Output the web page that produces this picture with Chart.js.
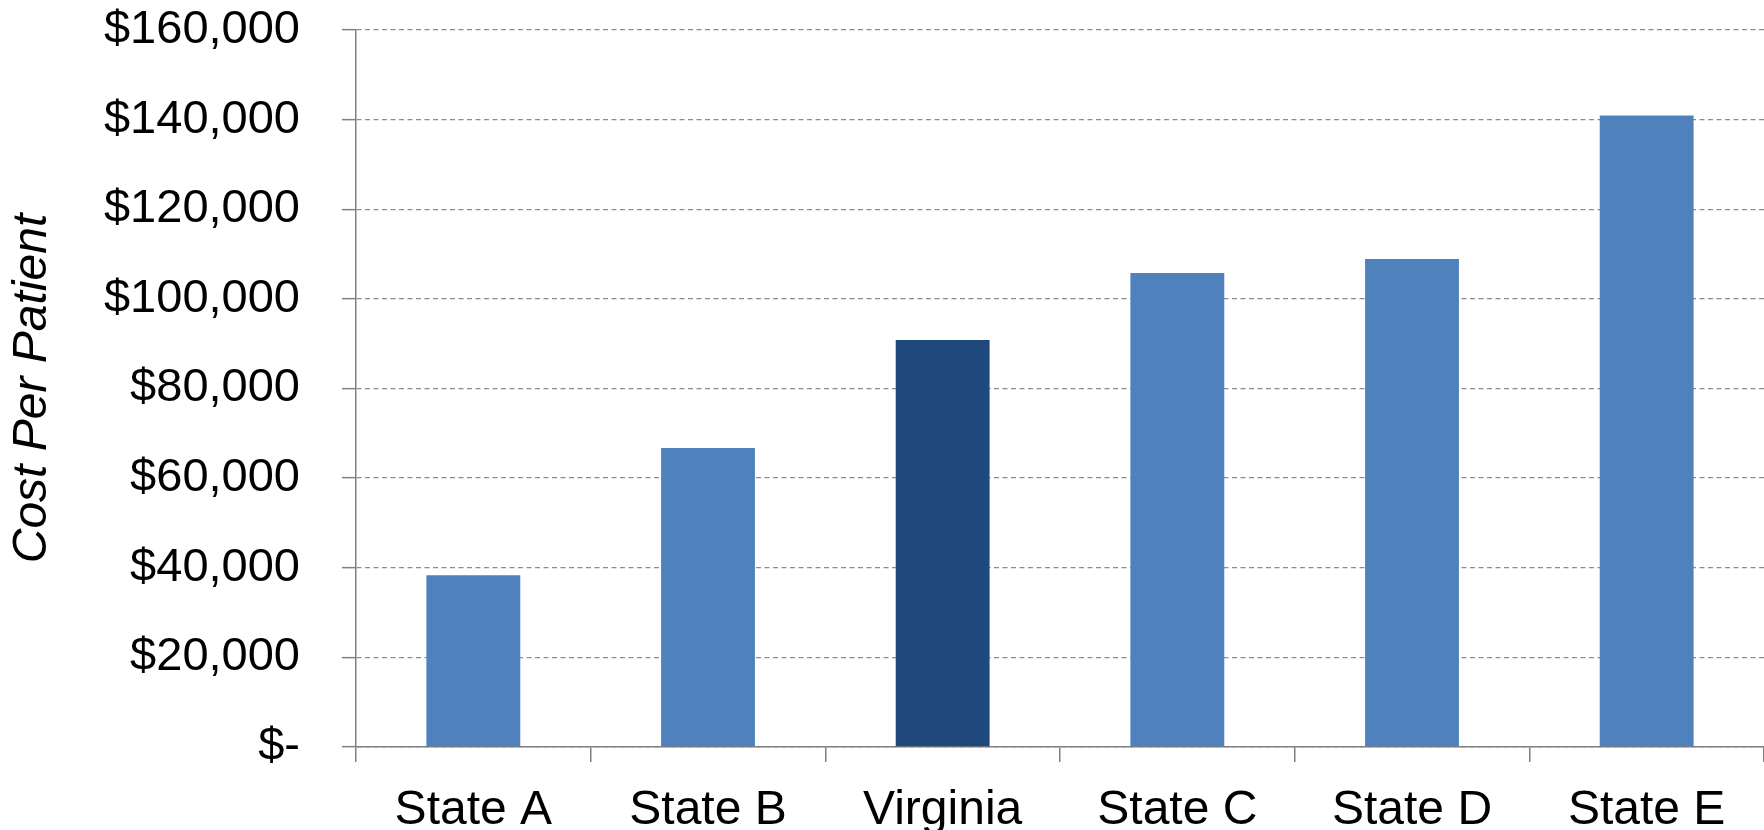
<!DOCTYPE html>
<html>
<head>
<meta charset="utf-8">
<script src="https://cdn.jsdelivr.net/npm/chart.js@4"></script>
<style>
  html, body { margin: 0; padding: 0; background: #fff; }
  #wrap { width: 1764px; height: 830px; }
</style>
</head>
<body>
<div id="wrap"><canvas id="costChart"></canvas></div>
<script>
// data
var states = ['State A', 'State B', 'Virginia', 'State C', 'State D', 'State E'];
var costPerPatient = [38300, 66700, 90800, 105800, 108900, 140900];
var barColors = ['#4F81BD', '#4F81BD', '#1F497D', '#4F81BD', '#4F81BD', '#4F81BD'];
var yTickLabels = ['$-', '$20,000', '$40,000', '$60,000', '$80,000', '$100,000', '$120,000', '$140,000', '$160,000'];

Chart.defaults.font.family = '"Liberation Sans", Arial, sans-serif';
Chart.defaults.color = '#000';

var ctx = document.getElementById('costChart').getContext('2d');
var costChart = new Chart(ctx, {
  type: 'bar',
  data: {
    labels: states,
    datasets: [{
      data: costPerPatient,
      backgroundColor: barColors,
      borderWidth: 0,
      barPercentage: 0.4,
      categoryPercentage: 1.0
    }]
  },
  options: {
    responsive: true,
    maintainAspectRatio: false,
    animation: false,
    layout: {
      padding: { top: 30, right: -4, bottom: 0, left: 0 }
    },
    plugins: {
      legend: { display: false },
      tooltip: { enabled: false }
    },
    scales: {
      x: {
        grid: {
          display: true,
          drawOnChartArea: false,
          offset: true,
          tickLength: 15,
          color: '#808080',
          lineWidth: 1.5
        },
        border: { display: true, color: '#808080', width: 1.5 },
        ticks: {
          font: { size: 48 },
          padding: 20,
          maxRotation: 0
        },
        afterFit: function (scale) {
          scale.height = 83;
          scale.paddingLeft = 0;
          scale.paddingRight = 0;
        }
      },
      y: {
        min: 0,
        max: 160000,
        grid: {
          color: '#8c8c8c',
          lineWidth: 1.3,
          tickLength: 14,
          tickColor: '#808080',
          tickWidth: 1.5,
          tickBorderDash: []
        },
        border: { display: true, color: '#808080', width: 1.5, dash: [5, 3.5] },
        ticks: {
          stepSize: 20000,
          font: { size: 47 },
          padding: 42,
          callback: function (value, index) { return yTickLabels[index]; }
        },
        title: {
          display: true,
          text: 'Cost Per Patient',
          font: { size: 48, style: 'italic' },
          padding: { top: 4, bottom: 0 }
        },
        afterFit: function (scale) {
          scale.width = 356;
          scale.paddingTop = 0;
          scale.paddingBottom = 0;
        }
      }
    }
  }
});
</script>
</body>
</html>
